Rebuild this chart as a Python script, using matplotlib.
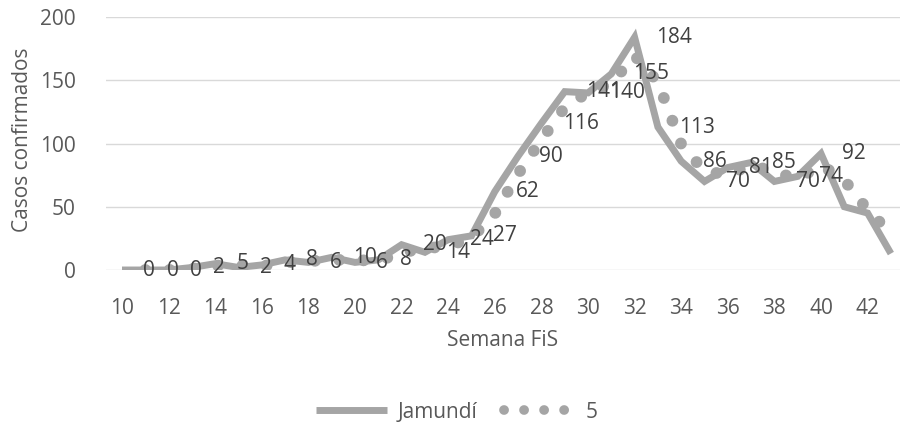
import matplotlib
matplotlib.use("Agg")
import matplotlib.pyplot as plt
from matplotlib.lines import Line2D

plt.rcParams['font.family'] = ['Open Sans', 'DejaVu Sans']

weeks = list(range(10, 44))
jamundi = [0, 0, 0, 2, 5, 2, 4, 8, 6, 10, 6, 8, 20, 14, 24, 27, 62, 90, 116,
           141, 140, 155, 184, 113, 86, 70, 81, 85, 70, 74, 92, 50, 45, 13]
ma_weeks = list(range(11, 44))
ma_values = [0, 0, 1, 3.5, 3.5, 3, 6, 7, 8, 8, 7, 14, 17, 19, 25.5, 44.5, 76,
             103, 128.5, 140.5, 147.5, 169.5, 148.5, 99.5, 78, 75.5, 83, 77.5,
             72, 83, 71, 47.5, 29]
label_weeks = list(range(10, 41))
xticks = list(range(10, 43, 2))
yticks = [0, 50, 100, 150, 200]
series_names = ['Jamundí', '5']

GRAY = '#a5a5a5'
TXT = '#595959'
LBL = '#404040'

fig = plt.figure(figsize=(9, 4.24), dpi=100)
W, H = 900, 424
ax = fig.add_axes([106 / W, (H - 270) / H, (900 - 106) / W, (270 - 17) / H])

px_per_week = 23.3
ax.set_xlim(10 - 16 / px_per_week, 10 + (900 - 122) / px_per_week)
ax.set_ylim(0, 200)

for y in yticks:
    ax.axhline(y, color='#d9d9d9', lw=1.0, zorder=0)

ax.plot(weeks, jamundi, color=GRAY, lw=5, solid_joinstyle='miter',
        solid_capstyle='butt', label=series_names[0], zorder=2)
ax.plot(ma_weeks, ma_values, color=GRAY, lw=8.5, linestyle=(0, (0.01, 2.05)),
        dash_capstyle='round', label=series_names[1], zorder=3)

for w, v in zip(weeks, jamundi):
    if w in label_weeks:
        ax.annotate(str(v), xy=(w + 1, v), xytext=(-2, 0),
                    textcoords='offset pixels', ha='left', va='center',
                    fontsize=15, color=LBL, zorder=4)

ax.set_xticks(xticks)
ax.set_yticks(yticks)
ax.tick_params(axis='both', length=0, labelsize=15, colors=TXT)
ax.tick_params(axis='y', pad=22)
ax.tick_params(axis='x', pad=20)
for s in ax.spines.values():
    s.set_visible(False)

fig.text(23 / W, 1 - 140 / H, 'Casos confirmados', rotation=90, ha='center',
         va='center', fontsize=15, color=TXT)
fig.text(503 / W, 1 - 340 / H, 'Semana FiS', ha='center', va='center',
         fontsize=15, color=TXT)

h1 = Line2D([], [], color=GRAY, lw=5, solid_capstyle='butt')
h2 = Line2D([], [], color=GRAY, lw=7, linestyle=(0, (0.01, 2.05)),
            dash_capstyle='round')
fig.legend([h1, h2], series_names, loc='center',
           bbox_to_anchor=(457 / W, 1 - 412 / H),
           ncol=2, frameon=False, fontsize=15, labelcolor=TXT,
           handlelength=3.4, handletextpad=0.5, columnspacing=1.3)

fig.savefig('out.png', dpi=100)
